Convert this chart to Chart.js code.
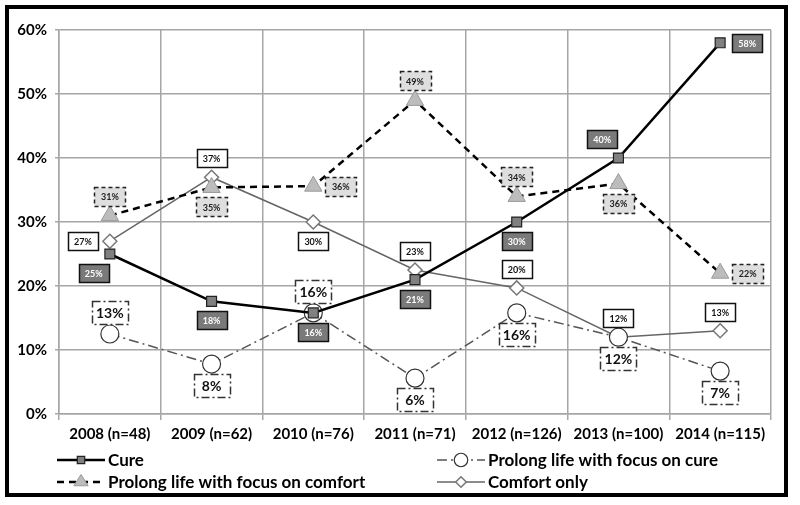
<!DOCTYPE html>
<html>
<head>
<meta charset="utf-8">
<script src="https://cdn.jsdelivr.net/npm/chart.js@4.4.1/dist/chart.umd.min.js"></script>
<style>
  html, body { margin: 0; padding: 0; background: #fff; }
  #wrap { position: relative; width: 800px; height: 505px; }
</style>
</head>
<body>
<div id="wrap"><canvas id="chart" width="800" height="505"></canvas></div>
<script>
// Dados
const categories = ['2008 (n=48)', '2009 (n=62)', '2010 (n=76)', '2011 (n=71)', '2012 (n=126)', '2013 (n=100)', '2014 (n=115)'];
const cure = [25, 17.6, 15.8, 21, 30, 40, 58];
const prolongCure = [12.5, 7.8, 15.8, 5.6, 15.8, 12, 6.7];
const prolongComfort = [31, 35.4, 35.6, 49, 34, 36, 22];
const comfortOnly = [27, 37, 30, 22.5, 19.7, 12, 13];
const yMin = 0, yMax = 60, yStep = 10;

// onde fica cada rótulo em relação ao ponto
const cureLabelPos = ['belowLeft', 'below', 'below', 'below', 'below', 'aboveLeft', 'right'];
const prolongCureLabelPos = ['above', 'below', 'above', 'below', 'below', 'below', 'below'];
const prolongComfortLabelPos = ['above', 'below', 'right', 'above', 'above', 'below', 'right'];
const comfortOnlyLabelPos = ['left', 'above', 'below', 'above', 'above', 'above', 'above'];

const FONT = 'Lato, "Open Sans", sans-serif';

const DIRS = {
    above: [0, -1], below: [0, 1], left: [-1, 0], right: [1, 0],
    aboveLeft: [-0.6, -1], belowLeft: [-0.6, 1]
};

function drawMarker(ctx, style, x, y, r) {
    ctx.beginPath();
    if (style === 'rect') {
        const s = Math.SQRT1_2 * r;
        ctx.rect(x - s, y - s, 2 * s, 2 * s);
    } else if (style === 'rectRot') {
        ctx.moveTo(x, y - r); ctx.lineTo(x + r, y); ctx.lineTo(x, y + r); ctx.lineTo(x - r, y); ctx.closePath();
    } else if (style === 'triangle') {
        const h = r * 1.5;
        ctx.moveTo(x, y - h * 2 / 3);
        ctx.lineTo(x + r * 0.95, y + h / 3);
        ctx.lineTo(x - r * 0.95, y + h / 3);
        ctx.closePath();
    } else {
        ctx.arc(x, y, r, 0, Math.PI * 2);
    }
    ctx.fill();
    ctx.stroke();
}

// moldura preta em volta de tudo
const frame = {
    id: 'frame',
    beforeDraw(chart) {
        const ctx = chart.ctx;
        ctx.save();
        ctx.fillStyle = '#fff';
        ctx.fillRect(0, 0, chart.width, chart.height);
        ctx.restore();
    },
    afterDraw(chart) {
        const ctx = chart.ctx;
        ctx.save();
        ctx.strokeStyle = '#000';
        ctx.lineWidth = 4;
        ctx.strokeRect(7, 7, 779, 488);
        ctx.restore();
    }
};

// rótulos em caixinhas
const boxLabels = {
    id: 'boxLabels',
    afterDatasetsDraw(chart) {
        const ctx = chart.ctx;
        chart.data.datasets.forEach((ds, di) => {
            const meta = chart.getDatasetMeta(di);
            const st = ds.labelStyle;
            meta.data.forEach((pt, i) => {
                const d = DIRS[ds.labelPos[i]];
                const cx = pt.x + d[0] * (st.w / 2 + 12);
                const cy = pt.y + d[1] * (st.h / 2 + 10);
                const x0 = Math.round(cx - st.w / 2) + 0.5;
                const y0 = Math.round(cy - st.h / 2) + 0.5;
                ctx.save();
                ctx.fillStyle = st.fill;
                ctx.fillRect(x0, y0, st.w, st.h);
                ctx.setLineDash(st.dash);
                ctx.strokeStyle = st.border;
                ctx.lineWidth = st.lineWidth;
                ctx.strokeRect(x0, y0, st.w, st.h);
                ctx.setLineDash([]);
                ctx.fillStyle = st.color;
                ctx.font = st.font;
                ctx.textAlign = 'center';
                ctx.textBaseline = 'middle';
                ctx.fillText(Math.round(ds.data[i]) + '%', cx, cy + 1);
                ctx.restore();
            });
        });
    }
};

// legenda em duas colunas
const gridLegend = {
    id: 'gridLegend',
    afterDraw(chart) {
        const ctx = chart.ctx;
        const cols = [57, 437];
        const rows = [460, 482];
        chart.data.datasets.forEach((ds, i) => {
            const x0 = cols[i % 2];
            const y = rows[Math.floor(i / 2)];
            ctx.save();
            ctx.strokeStyle = ds.borderColor;
            ctx.lineWidth = ds.borderWidth;
            ctx.setLineDash(ds.borderDash || []);
            ctx.beginPath();
            ctx.moveTo(x0, y);
            ctx.lineTo(x0 + 48, y);
            ctx.stroke();
            ctx.setLineDash([]);
            ctx.fillStyle = ds.pointBackgroundColor;
            ctx.strokeStyle = ds.pointBorderColor;
            ctx.lineWidth = ds.pointBorderWidth;
            drawMarker(ctx, ds.pointStyle, x0 + 24, y, ds.pointRadius * 0.75);
            ctx.fillStyle = '#000';
            ctx.font = 'bold 17px ' + FONT;
            ctx.textAlign = 'left';
            ctx.textBaseline = 'middle';
            ctx.fillText(ds.label, x0 + 51, y + 1);
            ctx.restore();
        });
    }
};

const smallFont = 'bold 9px ' + FONT;

new Chart(document.getElementById('chart'), {
    type: 'line',
    data: {
        labels: categories,
        datasets: [
            {
                label: 'Cure', data: cure, labelPos: cureLabelPos,
                borderColor: '#000', borderWidth: 2.5,
                pointStyle: 'rect', pointRadius: 7, pointBackgroundColor: '#808080', pointBorderColor: '#222', pointBorderWidth: 1.2,
                labelStyle: { w: 30, h: 18, fill: '#7a7a7a', border: '#111', dash: [], lineWidth: 1.5, color: '#fff', font: smallFont }
            },
            {
                label: 'Prolong life with focus on cure', data: prolongCure, labelPos: prolongCureLabelPos,
                borderColor: '#555', borderWidth: 1.5, borderDash: [10, 4, 2, 4],
                pointStyle: 'circle', pointRadius: 9, pointBackgroundColor: '#fff', pointBorderColor: '#333', pointBorderWidth: 1.2,
                labelStyle: { w: 36, h: 23, fill: '#fff', border: '#333', dash: [8, 3, 2, 3], lineWidth: 1.5, color: '#111', font: 'bold 14px ' + FONT }
            },
            {
                label: 'Prolong life with focus on comfort', data: prolongComfort, labelPos: prolongComfortLabelPos,
                borderColor: '#000', borderWidth: 2.5, borderDash: [7, 5],
                pointStyle: 'triangle', pointRadius: 10, pointBackgroundColor: '#bcbcbc', pointBorderColor: '#9a9a9a', pointBorderWidth: 1,
                labelStyle: { w: 31, h: 19, fill: '#dedede', border: '#222', dash: [4, 3], lineWidth: 1.5, color: '#222', font: smallFont }
            },
            {
                label: 'Comfort only', data: comfortOnly, labelPos: comfortOnlyLabelPos,
                borderColor: '#666', borderWidth: 1.5,
                pointStyle: 'rectRot', pointRadius: 7, pointBackgroundColor: '#fff', pointBorderColor: '#777', pointBorderWidth: 1.5,
                labelStyle: { w: 30, h: 18, fill: '#fff', border: '#111', dash: [], lineWidth: 1.5, color: '#111', font: smallFont }
            }
        ]
    },
    options: {
        responsive: false,
        animation: false,
        layout: { padding: { top: 30, right: 29, left: 0, bottom: 0 } },
        plugins: { legend: { display: false }, tooltip: { enabled: false } },
        elements: { line: { tension: 0, fill: false } },
        scales: {
            x: {
                offset: true,
                grid: { offset: true, color: '#a6a6a6', lineWidth: 1.5, tickLength: 6 },
                border: { color: '#a6a6a6', width: 1.5 },
                ticks: { color: '#000', font: { family: FONT, size: 15, weight: 'bold' }, padding: 5, maxRotation: 0, autoSkip: false },
                afterFit(s) { s.height = 91; }
            },
            y: {
                min: yMin, max: yMax,
                grid: { color: '#a6a6a6', lineWidth: 1.5, tickLength: 4 },
                border: { color: '#a6a6a6', width: 1.5 },
                ticks: { stepSize: yStep, color: '#000', font: { family: FONT, size: 15, weight: 'bold' }, padding: 8, callback: v => v + '%' },
                afterFit(s) { s.width = 59; }
            }
        }
    },
    plugins: [frame, boxLabels, gridLegend]
});
</script>
</body>
</html>
